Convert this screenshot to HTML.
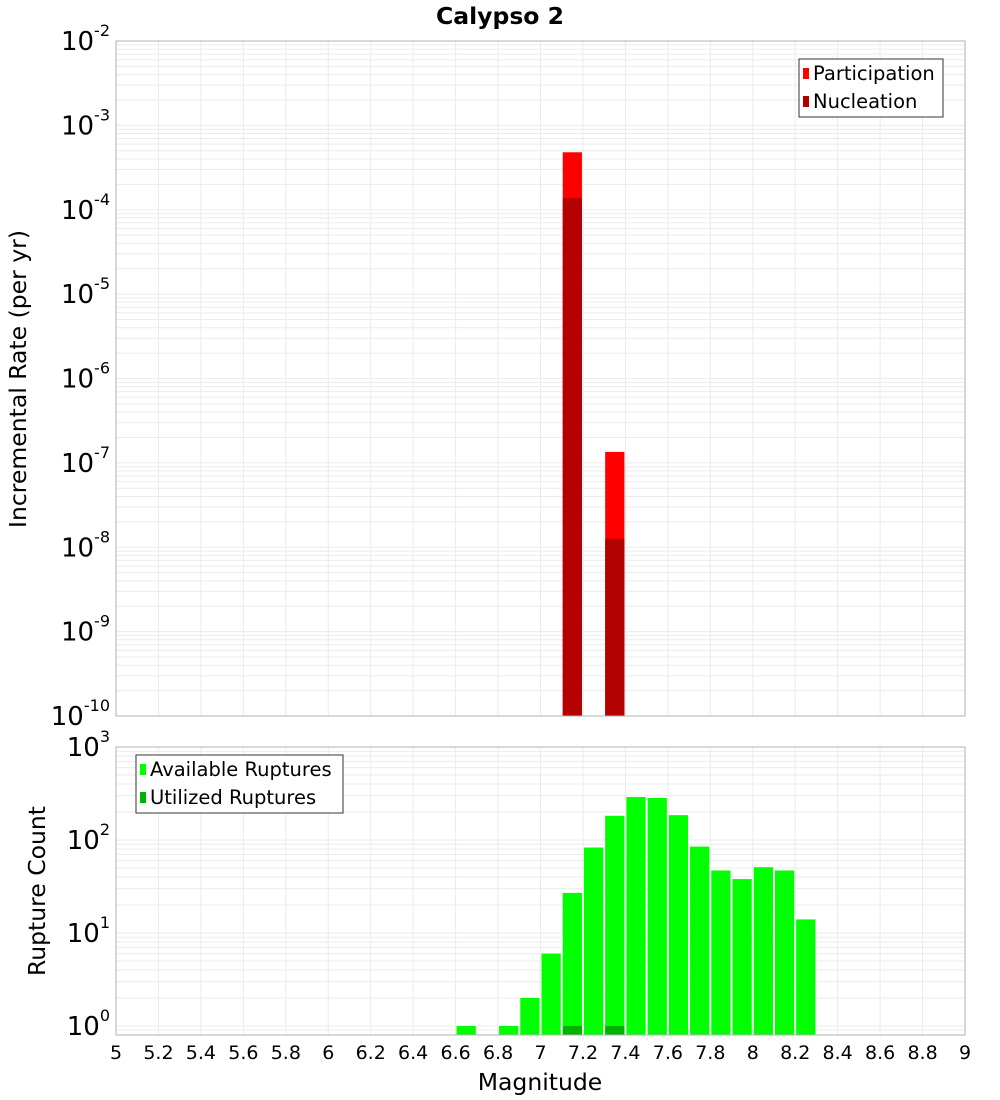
<!DOCTYPE html>
<html><head><meta charset="utf-8"><style>
body{margin:0;background:#fff;}
svg{display:block;font-family:"DejaVu Sans","Liberation Sans",sans-serif;}
</style></head><body>
<svg id="c" width="1000" height="1100" xmlns="http://www.w3.org/2000/svg">
<text x="500" y="24" text-anchor="middle" font-size="23.5" font-weight="bold">Calypso 2</text>
<text transform="translate(26,379) rotate(-90)" text-anchor="middle" font-size="23.5">Incremental Rate (per yr)</text>
<text transform="translate(45,891) rotate(-90)" text-anchor="middle" font-size="23.5">Rupture Count</text>
<text x="540" y="1090" text-anchor="middle" font-size="23.5">Magnitude</text>
</svg>
<script>
const binStarts=[6.6,6.8,6.9,7.0,7.1,7.2,7.3,7.4,7.5,7.6,7.7,7.8,7.9,8.0,8.1,8.2];
const availCounts=[1,1,2,6,27,83,182,290,283,185,85,47,38,51,47,14];
const utilBins=[7.1,7.3];
const utilCounts=[1,1];
const rateBins=[7.1,7.3];
const partRates=[4.8e-4,1.35e-7];
const nuclRates=[1.37e-4,1.26e-8];
const xTicks=[5,5.2,5.4,5.6,5.8,6,6.2,6.4,6.6,6.8,7,7.2,7.4,7.6,7.8,8,8.2,8.4,8.6,8.8,9];
const topExps=[-2,-3,-4,-5,-6,-7,-8,-9,-10];
const botExps=[3,2,1,0];

const svg=document.getElementById('c');
const NS='http://www.w3.org/2000/svg';
function mk(t,a,p){const e=document.createElementNS(NS,t);for(const k in a)e.setAttribute(k,a[k]);(p||svg).appendChild(e);return e;}
const L=116,R=965;
const X=m=>L+(m-5)*(R-L)/4;
const T0=41,T1=716;
const YT=v=>T1-(Math.log10(v)+10)*(T1-T0)/8;
const B0=747,B1=1035;
const YB=v=>1026-Math.log10(v)*93;

function grid(top,bot,yf,lo,hi,name){
  const g=mk('g',{});
  
  
  for(let e=lo;e<hi;e++)for(let k=1;k<10;k++){
    const y=yf(k*Math.pow(10,e));
    if(y<top-0.5||y>bot+0.5)continue;
    mk('line',{x1:L,x2:R,y1:y,y2:y,stroke:'#ebebeb','stroke-width':1},g);
  }
  xTicks.forEach(m=>mk('line',{x1:X(m),x2:X(m),y1:top,y2:bot,stroke:'#ebebeb','stroke-width':1},g));
}
grid(T0,T1,YT,-10,-1,'top-grid');
grid(B0,B1,YB,-1,3,'bottom-grid');

rateBins.forEach((b,i)=>{
  const x=X(b)+1,w=X(b+0.1)-X(b)-2;
  let r=mk('rect',{x:x,y:YT(partRates[i]),width:w,height:T1-YT(partRates[i]),fill:'#ff0000'});
  
  
  r=mk('rect',{x:x,y:YT(nuclRates[i]),width:w,height:T1-YT(nuclRates[i]),fill:'#b30000'});
  
  
});
binStarts.forEach((b,i)=>{
  const x=X(b)+1,w=X(b+0.1)-X(b)-2;
  const r=mk('rect',{x:x,y:YB(availCounts[i]),width:w,height:B1-YB(availCounts[i]),fill:'#00ff00'});
  
  
});
utilBins.forEach((b,i)=>{
  const x=X(b)+1,w=X(b+0.1)-X(b)-2;
  const r=mk('rect',{x:x,y:YB(utilCounts[i]),width:w,height:B1-YB(utilCounts[i]),fill:'#00b300'});
  
  
});
let f=mk('rect',{x:L,y:T0,width:R-L,height:T1-T0,fill:'none',stroke:'#b0b0b0'});


f=mk('rect',{x:L,y:B0,width:R-L,height:B1-B0,fill:'none',stroke:'#b0b0b0'});



function ylab(e,y,name){
  const t=mk('text',{x:110,y:y+9,'text-anchor':'end','font-size':26});
  
  
  const a=mk('tspan',{},t);a.textContent='10';
  const s=mk('tspan',{dy:-14,'font-size':16},t);s.textContent=String(e);
}
topExps.forEach(e=>ylab(e,YT(Math.pow(10,e)),'top-y-tick-label'));
botExps.forEach(e=>ylab(e,YB(Math.pow(10,e)),'bottom-y-tick-label'));
xTicks.forEach(m=>{
  const t=mk('text',{x:X(m),y:1059,'text-anchor':'middle','font-size':19});
  
  
  t.textContent=String(m);
});
function legend(x,y,w,items,name){
  const g=mk('g',{});
  
  
  mk('rect',{x:x,y:y,width:w,height:58,fill:'#fff',stroke:'#333'},g);
  items.forEach((it,i)=>{
    mk('rect',{x:x+4,y:y+9+i*28,width:6,height:11,fill:it[1]},g);
    const t=mk('text',{x:x+14,y:y+21+i*28,'font-size':19.5},g);
    t.textContent=it[0];
  });
}
legend(799,59,144,[['Participation','#ff0000'],['Nucleation','#b30000']],'top-legend');
legend(136,755,207,[['Available Ruptures','#00ff00'],['Utilized Ruptures','#00b300']],'bottom-legend');
</script>
</body></html>
